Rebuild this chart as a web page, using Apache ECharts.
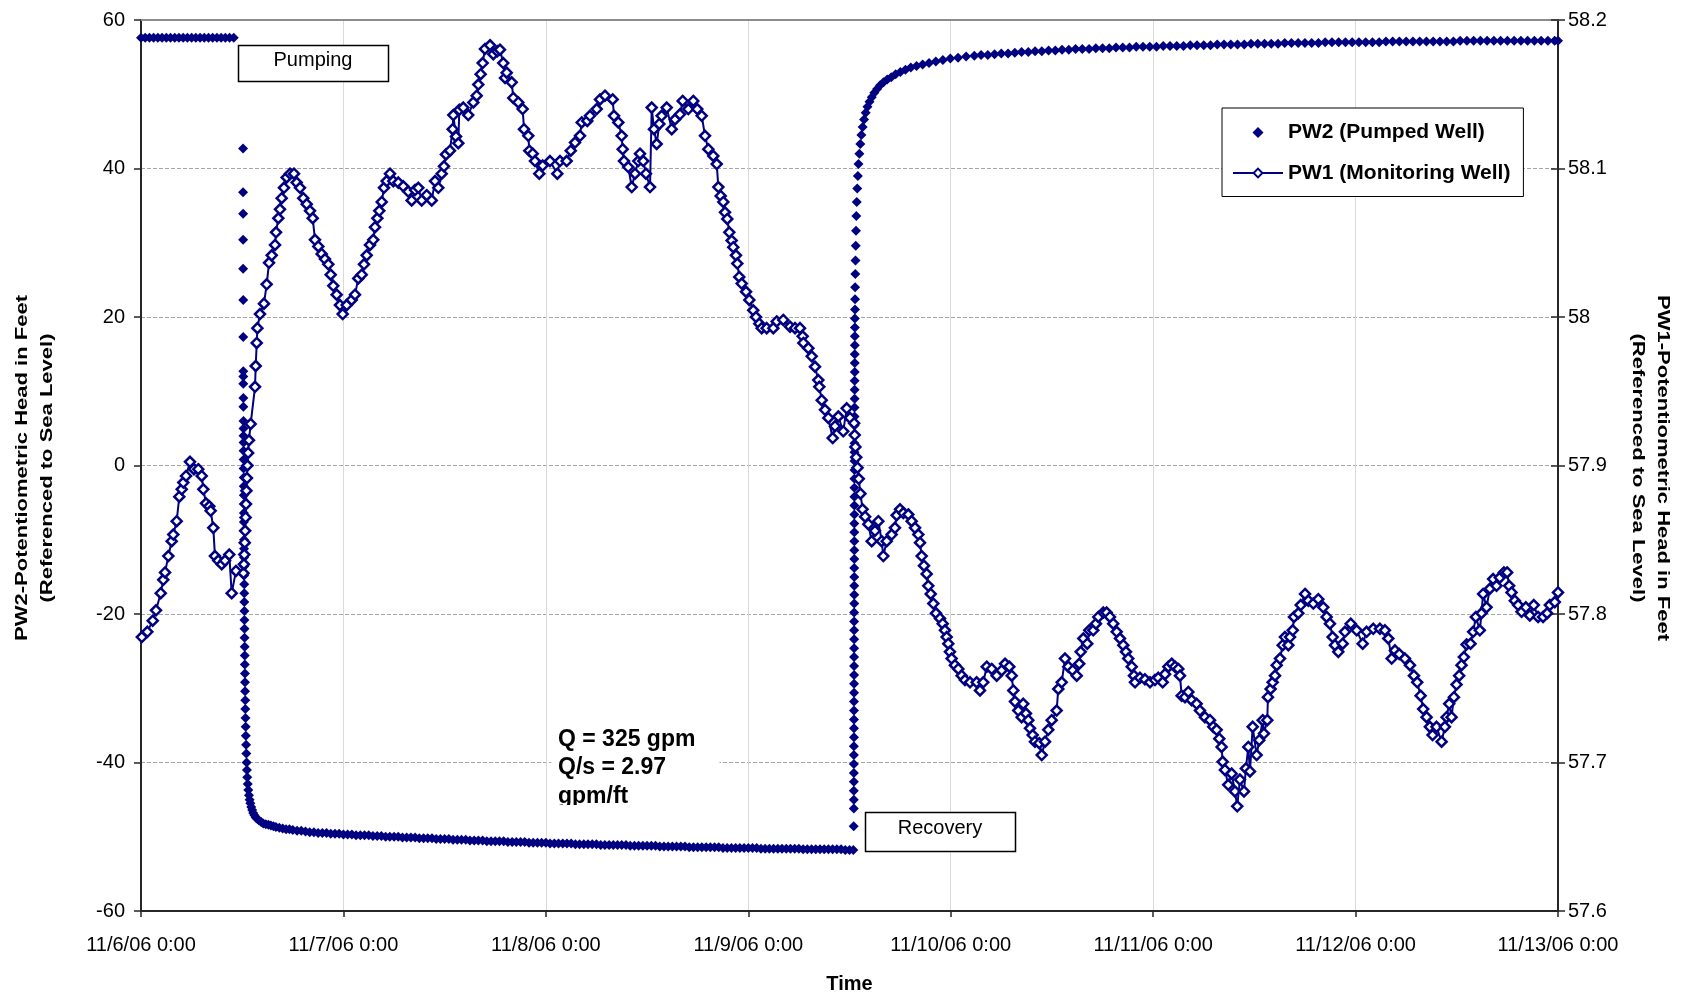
<!DOCTYPE html>
<html>
<head>
<meta charset="utf-8">
<script src="https://cdn.jsdelivr.net/npm/echarts@6/dist/echarts.min.js"></script>
<style>
  html, body { margin: 0; padding: 0; background: #fff; }
  #chart { width: 1686px; height: 999px; }
</style>
</head>
<body>
<div id="chart"></div>
<script>
// Time axis: hours since 11/6/06 0:00, one tick per day
const dayLabels = ['11/6/06 0:00', '11/7/06 0:00', '11/8/06 0:00', '11/9/06 0:00',
                   '11/10/06 0:00', '11/11/06 0:00', '11/12/06 0:00', '11/13/06 0:00'];

// PW2 (pumped well) head, ft above sea level: [hour, head]
const pw2Static = [
  [0,57.6],[0.5,57.6],[1,57.6],[1.5,57.6],[2,57.6],[2.5,57.6],[3,57.6],[3.5,57.6],[4,57.6],[4.5,57.6],
  [5,57.6],[5.5,57.6],[6,57.6],[6.5,57.6],[7,57.6],[7.5,57.6],[8,57.6],[8.5,57.6],[9,57.6],[9.5,57.6],
  [10,57.6],[10.5,57.6],[11,57.6]
];
const pw2Pumping = [
  [12.10,42.7],[12.10,36.8],[12.11,33.9],[12.11,30.4],[12.11,26.5],[12.12,22.3],[12.12,17.3],[12.13,12.7],
  [12.13,12.0],[12.13,11.0],[12.14,9.1],[12.14,7.9],[12.15,6.0],[12.15,5.0],[12.15,4.0],[12.16,3.1],
  [12.16,2.0],[12.17,0.8],[12.17,-0.4],[12.18,-1.6],[12.18,-2.8],[12.19,-4.0],[12.19,-5.2],[12.20,-6.4],
  [12.20,-7.6],[12.21,-8.8],[12.21,-10.0],[12.22,-11.2],[12.22,-12.4],[12.23,-13.6],[12.23,-14.8],[12.24,-16.0],
  [12.24,-17.2],[12.25,-18.4],[12.26,-19.6],[12.26,-20.8],[12.27,-22.0],[12.28,-23.2],[12.29,-24.4],[12.30,-25.6],
  [12.31,-26.8],[12.32,-28.0],[12.33,-29.2],[12.34,-30.4],[12.36,-31.6],[12.37,-32.8],[12.39,-34.0],[12.41,-35.2],
  [12.43,-36.4],[12.46,-37.6],[12.49,-38.8],[12.52,-40.0],[12.56,-41.0],[12.60,-42.0],[12.66,-42.9],[12.72,-43.7],
  [12.80,-44.4],[12.88,-45.0],[12.97,-45.5],[13.07,-46.0],[13.18,-46.4],[13.30,-46.8],[13.45,-47.1],[13.60,-47.4],
  [13.80,-47.6],[14.00,-47.8],[14.25,-48.0],[14.50,-48.2],[14.80,-48.3],[15.10,-48.4],[15.40,-48.5],[15.70,-48.6],
  [16.00,-48.7],[16.40,-48.8],[16.80,-48.9],[17.20,-49.0],[17.60,-49.0],[18.00,-49.1],[18.50,-49.2],[19.00,-49.2],
  [19.50,-49.3],[20.0,-49.4],[20.5,-49.4],[21.0,-49.5],[21.5,-49.5],[22.0,-49.5],[22.5,-49.6],[23.0,-49.6],
  [23.5,-49.6],[24.0,-49.7],[24.5,-49.7],[25.0,-49.7],[25.5,-49.8],[26.0,-49.8],[26.5,-49.8],[27.0,-49.8],
  [27.5,-49.9],[28.0,-49.9],[28.5,-49.9],[29.0,-50.0],[29.5,-50.0],[30.0,-50.0],[30.5,-50.0],[31.0,-50.1],
  [31.5,-50.1],[32.0,-50.1],[32.5,-50.1],[33.0,-50.2],[33.5,-50.2],[34.0,-50.2],[34.5,-50.2],[35.0,-50.3],
  [35.5,-50.3],[36.0,-50.3],[36.5,-50.3],[37.0,-50.4],[37.5,-50.4],[38.0,-50.4],[38.5,-50.4],[39.0,-50.5],
  [39.5,-50.5],[40.0,-50.5],[40.5,-50.5],[41.0,-50.6],[41.5,-50.6],[42.0,-50.6],[42.5,-50.6],[43.0,-50.6],
  [43.5,-50.7],[44.0,-50.7],[44.5,-50.7],[45.0,-50.7],[45.5,-50.7],[46.0,-50.8],[46.5,-50.8],[47.0,-50.8],
  [47.5,-50.8],[48.0,-50.8],[48.5,-50.9],[49.0,-50.9],[49.5,-50.9],[50.0,-50.9],[50.5,-50.9],[51.0,-50.9],
  [51.5,-51.0],[52.0,-51.0],[52.5,-51.0],[53.0,-51.0],[53.5,-51.0],[54.0,-51.0],[54.5,-51.1],[55.0,-51.1],
  [55.5,-51.1],[56.0,-51.1],[56.5,-51.1],[57.0,-51.1],[57.5,-51.1],[58.0,-51.2],[58.5,-51.2],[59.0,-51.2],
  [59.5,-51.2],[60.0,-51.2],[60.5,-51.2],[61.0,-51.2],[61.5,-51.3],[62.0,-51.3],[62.5,-51.3],[63.0,-51.3],
  [63.5,-51.3],[64.0,-51.3],[64.5,-51.3],[65.0,-51.4],[65.5,-51.4],[66.0,-51.4],[66.5,-51.4],[67.0,-51.4],
  [67.5,-51.4],[68.0,-51.4],[68.5,-51.4],[69.0,-51.5],[69.5,-51.5],[70.0,-51.5],[70.5,-51.5],[71.0,-51.5],
  [71.5,-51.5],[72.0,-51.5],[72.5,-51.5],[73.0,-51.5],[73.5,-51.6],[74.0,-51.6],[74.5,-51.6],[75.0,-51.6],
  [75.5,-51.6],[76.0,-51.6],[76.5,-51.6],[77.0,-51.6],[77.5,-51.6],[78.0,-51.6],[78.5,-51.7],[79.0,-51.7],
  [79.5,-51.7],[80.0,-51.7],[80.5,-51.7],[81.0,-51.7],[81.5,-51.7],[82.0,-51.7],[82.5,-51.7],[83.0,-51.7],
  [83.5,-51.8],[84.0,-51.8],[84.45,-51.8]
];
const pw2Recovery = [
  [84.50,-48.6],[84.51,-46.2],[84.51,-45.0],[84.51,-43.8],[84.52,-42.6],[84.52,-41.4],[84.52,-40.2],[84.52,-39.0],
  [84.52,-37.8],[84.53,-36.6],[84.53,-35.4],[84.53,-34.2],[84.53,-33.0],[84.53,-31.8],[84.54,-30.6],[84.54,-29.4],
  [84.54,-28.2],[84.54,-27.0],[84.54,-25.8],[84.55,-24.6],[84.55,-23.4],[84.55,-22.2],[84.55,-21.0],[84.55,-19.8],
  [84.56,-18.6],[84.56,-17.4],[84.56,-16.2],[84.56,-15.0],[84.56,-13.8],[84.57,-12.6],[84.57,-11.4],[84.57,-10.2],
  [84.57,-9.0],[84.57,-7.8],[84.58,-6.6],[84.58,-5.4],[84.58,-4.2],[84.58,-3.0],[84.58,-1.8],[84.59,-0.6],
  [84.59,0.6],[84.59,1.8],[84.59,3.0],[84.60,4.2],[84.60,5.4],[84.60,6.6],[84.60,7.8],[84.61,9.0],
  [84.61,10.2],[84.61,11.4],[84.62,12.6],[84.62,13.8],[84.62,15.0],[84.63,16.2],[84.63,17.4],[84.64,18.6],
  [84.64,19.8],[84.65,21.0],[84.66,22.4],[84.67,24.0],[84.69,25.8],[84.71,27.6],[84.74,29.6],[84.77,31.6],
  [84.81,33.6],[84.86,35.5],[84.92,37.3],[84.99,39.0],[85.07,40.6],[85.17,42.0],[85.28,43.3],[85.41,44.5],
  [85.56,45.6],[85.73,46.6],[85.92,47.5],[86.13,48.3],[86.37,49.0],[86.64,49.6],[86.94,50.2],[87.27,50.7],
  [87.63,51.2],[88.03,51.6],[88.47,52.0],[88.95,52.3],[89.47,52.7],[90.03,53.0],[90.63,53.3],[91.27,53.6],
  [91.95,53.8],[92.67,54.0],[93.43,54.2],[94.23,54.4],[95.07,54.6],[95.95,54.8],[96.87,54.9],[97.83,55.1],
  [98.8,55.2],[99.6,55.3],[100.4,55.3],[101.2,55.4],[102.0,55.5],[102.8,55.5],[103.6,55.6],[104.4,55.7],
  [105.2,55.7],[106.0,55.8],[106.8,55.8],[107.6,55.9],[108.4,55.9],[109.2,56.0],[110.0,56.0],[110.8,56.1],
  [111.6,56.1],[112.4,56.1],[113.2,56.2],[114.0,56.2],[114.8,56.2],[115.6,56.3],[116.4,56.3],[117.2,56.3],
  [118.0,56.4],[118.8,56.4],[119.6,56.4],[120.4,56.4],[121.2,56.5],[122.0,56.5],[122.8,56.5],[123.6,56.5],
  [124.4,56.6],[125.2,56.6],[126.0,56.6],[126.8,56.6],[127.6,56.7],[128.4,56.7],[129.2,56.7],[130.0,56.7],
  [130.8,56.7],[131.6,56.8],[132.4,56.8],[133.2,56.8],[134.0,56.8],[134.8,56.8],[135.6,56.9],[136.4,56.9],
  [137.2,56.9],[138.0,56.9],[138.8,56.9],[139.6,56.9],[140.4,57.0],[141.2,57.0],[142.0,57.0],[142.8,57.0],
  [143.6,57.0],[144.4,57.0],[145.2,57.0],[146.0,57.0],[146.8,57.0],[147.6,57.1],[148.4,57.1],[149.2,57.1],
  [150.0,57.1],[150.8,57.1],[151.6,57.1],[152.4,57.1],[153.2,57.1],[154.0,57.1],[154.8,57.1],[155.6,57.1],
  [156.4,57.2],[157.2,57.2],[158.0,57.2],[158.8,57.2],[159.6,57.2],[160.4,57.2],[161.2,57.2],[162.0,57.2],
  [162.8,57.2],[163.6,57.2],[164.4,57.2],[165.2,57.2],[166.0,57.2],[166.8,57.2],[167.6,57.2],[168.0,57.2]
];

// PW1 (monitoring well) head, ft above sea level: [hour, head]
const pw1 = [
  [0.10,57.7845],[0.75,57.788],[1.39,57.7955],[1.78,57.8025],[2.34,57.814],[2.64,57.823],[2.85,57.828],[3.24,57.839],
  [3.64,57.849],[3.83,57.8535],[4.23,57.8625],[4.54,57.879],[4.83,57.884],[5.02,57.8885],[5.34,57.893],[5.81,57.9025],
  [6.28,57.8975],[6.79,57.8975],[7.20,57.893],[7.39,57.884],[7.71,57.8745],[8.10,57.8725],[8.26,57.8695],[8.57,57.858],
  [8.77,57.839],[9.16,57.836],[9.57,57.8335],[9.96,57.836],[10.47,57.84],[10.75,57.814],[11.26,57.829],
  [12.15,57.8275],[12.20,57.8335],[12.25,57.84],[12.30,57.848],[12.35,57.856],[12.40,57.865],[12.45,57.874],
  [12.50,57.883],[12.56,57.8915],[12.62,57.9],[12.70,57.9085],[12.80,57.917],[13.00,57.928],[13.52,57.953],
  [13.60,57.967],[13.72,57.9825],[13.80,57.9925],[14.11,58.002],[14.58,58.009],[14.90,58.022],[15.18,58.0365],
  [15.50,58.0415],[15.89,58.0485],[16.01,58.057],[16.28,58.0665],[16.48,58.0725],[16.68,58.08],[16.95,58.087],
  [17.27,58.094],[17.67,58.0965],[18.14,58.0965],[18.46,58.0905],[18.85,58.087],[19.24,58.08],[19.65,58.076],
  [20.04,58.0715],[20.36,58.0665],[20.63,58.052],[21.02,58.0475],[21.42,58.0425],[21.81,58.039],[22.21,58.0355],
  [22.49,58.0285],[22.80,58.021],[23.20,58.015],[23.59,58.008],[23.91,58.002],[24.39,58.008],[24.98,58.0115],
  [25.37,58.015],[25.76,58.026],[26.17,58.0285],[26.44,58.0355],[26.76,58.0415],[27.15,58.0485],[27.54,58.052],
  [27.74,58.0605],[28.02,58.0665],[28.25,58.0715],[28.54,58.0775],[28.81,58.087],[29.13,58.0915],[29.52,58.0965],
  [29.91,58.0915],[30.51,58.0905],[31.10,58.088],[31.69,58.0845],[32.09,58.0785],[32.49,58.0855],[32.88,58.087],
  [33.28,58.0785],[33.87,58.082],[34.47,58.0785],[34.86,58.0915],[35.25,58.087],[35.65,58.0965],[35.92,58.1015],
  [36.16,58.1095],[36.63,58.112],[36.95,58.1265],[37.03,58.136],[37.35,58.1215],[37.62,58.117],[37.74,58.1395],
  [38.21,58.141],[38.80,58.136],[39.40,58.1445],[39.80,58.149],[39.99,58.1565],[40.27,58.1635],[40.51,58.171],
  [40.78,58.1805],[41.38,58.183],[41.77,58.177],[42.24,58.179],[42.56,58.18],[42.95,58.171],[43.16,58.161],
  [43.36,58.1645],[43.95,58.158],[44.14,58.1475],[44.73,58.1445],[45.25,58.14],[45.41,58.1265],[45.92,58.122],
  [46.04,58.112],[46.44,58.11],[46.71,58.105],[47.22,58.0965],[47.62,58.102],[48.49,58.105],[49.36,58.0965],
  [49.68,58.105],[50.47,58.105],[50.95,58.112],[51.46,58.1175],[52.05,58.122],[52.25,58.131],[52.91,58.132],
  [53.23,58.1355],[54.03,58.14],[54.42,58.1465],[55.01,58.149],[55.92,58.1465],[56.08,58.1355],[56.59,58.131],
  [56.99,58.122],[57.11,58.113],[57.26,58.105],[57.77,58.101],[58.18,58.0875],[58.57,58.0965],[58.96,58.105],
  [59.16,58.11],[59.55,58.105],[59.87,58.0965],[60.35,58.0875],[60.55,58.141],[60.82,58.1265],[61.14,58.1165],
  [61.45,58.13],[61.73,58.1355],[62.33,58.141],[62.92,58.1265],[63.31,58.133],[63.90,58.1365],[64.22,58.1455],
  [64.89,58.14],[65.48,58.1455],[65.95,58.14],[66.48,58.1355],[66.87,58.122],[67.26,58.113],[67.85,58.1085],
  [68.26,58.103],[68.45,58.0875],[68.73,58.0815],[69.04,58.0775],[69.24,58.0705],[69.51,58.066],[69.75,58.057],
  [70.03,58.0515],[70.22,58.047],[70.54,58.0415],[70.70,58.036],[70.93,58.027],[71.22,58.0225],[71.73,58.017],
  [72.12,58.0115],[72.59,58.0045],[72.91,58.0],[73.31,57.9955],[73.59,57.9925],[74.18,57.9925],[74.97,57.9925],
  [75.37,57.997],[76.15,57.998],[76.95,57.9935],[77.54,57.9925],[78.13,57.9925],[78.45,57.987],[78.53,57.9825],
  [79.12,57.979],[79.52,57.9735],[79.91,57.9665],[80.30,57.9575],[80.42,57.953],[80.71,57.944],[81.10,57.9375],
  [81.49,57.932],[82.01,57.9185],[82.28,57.9265],[82.67,57.933],[83.26,57.923],[83.67,57.9385],[84.06,57.932],
  [84.55,57.9285],[84.62,57.9205],[84.70,57.9125],[84.80,57.9055],[84.95,57.8985],[85.10,57.891],[85.30,57.881],
  [85.55,57.8705],[85.85,57.8655],[86.23,57.8605],[86.63,57.849],[87.02,57.856],[87.42,57.8625],[87.82,57.849],
  [88.01,57.839],[88.41,57.849],[89.00,57.8535],[89.39,57.858],[89.59,57.8665],[89.99,57.8705],[90.38,57.868],
  [90.97,57.867],[91.37,57.8625],[91.77,57.858],[92.16,57.8535],[92.36,57.848],[92.56,57.839],[92.83,57.8325],
  [93.15,57.827],[93.34,57.819],[93.63,57.8135],[93.94,57.807],[94.25,57.8005],[94.73,57.797],[95.05,57.7935],
  [95.32,57.789],[95.52,57.7845],[95.71,57.78],[95.91,57.7745],[96.11,57.77],[96.50,57.7655],[96.90,57.763],
  [97.30,57.7585],[97.69,57.7555],[98.29,57.754],[99.08,57.754],[99.47,57.7485],[99.86,57.754],[100.27,57.7645],
  [100.86,57.763],[101.45,57.7585],[102.04,57.762],[102.44,57.7665],[102.95,57.7645],[103.23,57.7585],[103.42,57.7485],
  [103.62,57.741],[104.01,57.735],[104.41,57.7305],[104.60,57.7395],[104.92,57.733],[105.20,57.7285],[105.40,57.723],
  [105.72,57.7185],[105.99,57.714],[106.50,57.713],[106.79,57.705],[107.18,57.714],[107.57,57.722],[107.97,57.7285],
  [108.56,57.735],[108.75,57.7495],[109.16,57.754],[109.55,57.77],[109.94,57.7645],[110.46,57.762],[110.94,57.7585],
  [111.24,57.7665],[111.41,57.7745],[111.72,57.7835],[112.19,57.78],[112.43,57.789],[112.90,57.789],[113.22,57.7935],
  [113.50,57.798],[114.09,57.801],[114.49,57.801],[114.88,57.798],[115.27,57.7935],[115.68,57.788],[116.07,57.7835],
  [116.46,57.779],[116.78,57.7745],[117.05,57.77],[117.46,57.7645],[117.73,57.7585],[117.85,57.754],[118.44,57.757],
  [119.03,57.756],[119.63,57.754],[120.22,57.7555],[120.61,57.757],[121.13,57.754],[121.41,57.7595],[121.80,57.7645],
  [122.20,57.7665],[122.59,57.7645],[122.98,57.763],[123.18,57.7585],[123.38,57.745],[123.78,57.744],[124.17,57.7475],
  [124.57,57.742],[125.16,57.7395],[125.55,57.735],[126.14,57.7305],[126.74,57.7285],[127.13,57.724],[127.53,57.722],
  [127.84,57.716],[128.12,57.7105],[128.24,57.7005],[128.51,57.695],[128.90,57.685],[129.31,57.6925],[129.70,57.6805],
  [129.97,57.6705],[130.29,57.6885],[130.77,57.6805],[131.00,57.696],[131.28,57.7105],[131.48,57.694],[131.80,57.724],
  [132.27,57.705],[132.58,57.715],[132.99,57.7285],[133.14,57.7195],[133.53,57.7285],[133.61,57.744],[133.93,57.7495],
  [134.17,57.754],[134.45,57.7585],[134.65,57.7655],[135.04,57.77],[135.36,57.779],[135.63,57.7845],[136.03,57.779],
  [136.23,57.7845],[136.55,57.789],[136.70,57.798],[137.21,57.8005],[137.50,57.806],[138.01,57.8135],[138.40,57.809],
  [138.99,57.807],[139.58,57.81],[140.17,57.8045],[140.57,57.798],[140.96,57.7935],[141.28,57.7845],[141.56,57.779],
  [141.95,57.7745],[142.47,57.78],[142.74,57.788],[143.42,57.7935],[144.13,57.789],[144.84,57.78],[145.31,57.788],
  [146.10,57.79],[146.89,57.79],[147.48,57.789],[147.88,57.7835],[148.28,57.77],[148.67,57.7755],[149.18,57.773],
  [149.85,57.77],[150.45,57.7655],[150.92,57.7585],[151.31,57.754],[151.71,57.745],[152.02,57.736],[152.42,57.7305],
  [152.81,57.724],[153.13,57.7185],[153.60,57.724],[154.20,57.714],[154.59,57.724],[154.79,57.7305],[155.10,57.7395],
  [155.38,57.7305],[155.66,57.744],[155.97,57.7525],[156.28,57.7585],[156.56,57.7655],[156.84,57.771],[157.16,57.7795],
  [157.63,57.78],[157.94,57.788],[158.26,57.798],[158.73,57.789],[158.93,57.8005],[159.12,57.8135],[159.53,57.8045],
  [159.92,57.817],[160.31,57.8235],[160.71,57.819],[161.10,57.8245],[161.58,57.828],[161.97,57.828],[162.21,57.819],
  [162.49,57.8145],[162.88,57.809],[163.27,57.806],[163.68,57.8015],[164.19,57.8045],[164.66,57.799],[165.13,57.806],
  [165.64,57.798],[166.23,57.798],[166.71,57.8005],[167.03,57.806],[167.62,57.808],[168.00,57.8145]
];

const NAVY = '#000080';
const FONT = '"Liberation Sans", Arial, Helvetica, sans-serif';
const AXIS_COLOR = '#262626';
const DIAMOND_PATH = 'path://M5,0L10,5L5,10L0,5Z';

const chart = echarts.init(document.getElementById('chart'), null, { renderer: 'canvas' });

chart.setOption({
  animation: false,
  backgroundColor: '#ffffff',
  textStyle: { fontFamily: FONT },
  grid: { left: 141, right: 128, top: 20, bottom: 84 },
  legend: {
    orient: 'vertical',
    left: 1222,
    top: 108,
    padding: [14, 13, 13, 10],
    itemGap: 19.5,
    itemWidth: 50,
    itemHeight: 11,
    symbolKeepAspect: true,
    backgroundColor: '#ffffff',
    borderColor: '#000000',
    borderWidth: 1,
    borderRadius: 0,
    textStyle: { fontFamily: FONT, fontSize: 21, fontWeight: 'bold', color: '#000', lineHeight: 21 },
    data: [
      { name: 'PW2 (Pumped Well)', icon: DIAMOND_PATH },
      { name: 'PW1 (Monitoring Well)' }
    ]
  },
  xAxis: [
    {
      type: 'value', min: 0, max: 168, interval: 24, position: 'bottom',
      axisLine: { show: true, onZero: false, lineStyle: { color: AXIS_COLOR, width: 2 } },
      axisTick: { show: true, length: 6, lineStyle: { color: AXIS_COLOR, width: 1.5 } },
      axisLabel: {
        fontFamily: FONT, fontSize: 20, color: '#000', margin: 24,
        formatter: v => dayLabels[Math.round(v / 24)]
      },
      splitLine: { show: true, lineStyle: { color: '#d9d9d9', width: 1 } },
      name: 'Time', nameLocation: 'middle', nameGap: 63,
      nameTextStyle: { fontFamily: FONT, fontSize: 20, fontWeight: 'bold', color: '#000' }
    },
    {
      // plot-area top edge
      type: 'value', min: 0, max: 168, position: 'top',
      axisLine: { show: true, onZero: false, lineStyle: { color: '#8c8c8c', width: 2 } },
      axisTick: { show: false }, axisLabel: { show: false }, splitLine: { show: false }
    }
  ],
  yAxis: [
    {
      type: 'value', min: -60, max: 60, interval: 20, position: 'left',
      axisLine: { show: true, onZero: false, lineStyle: { color: AXIS_COLOR, width: 2 } },
      axisTick: { show: true, length: 7, lineStyle: { color: AXIS_COLOR, width: 1.5 } },
      axisLabel: { fontFamily: FONT, fontSize: 20, color: '#000', margin: 16 },
      splitLine: { show: true, lineStyle: { color: '#a6a6a6', width: 1, type: [4, 2] } }
    },
    {
      type: 'value', min: 57.6, max: 58.2, interval: 0.1, position: 'right',
      axisLine: { show: true, onZero: false, lineStyle: { color: AXIS_COLOR, width: 2 } },
      axisTick: { show: true, length: 7, lineStyle: { color: AXIS_COLOR, width: 1.5 } },
      axisLabel: {
        fontFamily: FONT, fontSize: 20, color: '#000', margin: 10,
        formatter: v => String(+v.toFixed(1))
      },
      splitLine: { show: false }
    },
    {
      // inner half of the crossing ticks on the right axis
      type: 'value', min: 57.6, max: 58.2, interval: 0.1, position: 'right',
      axisLine: { show: false, onZero: false },
      axisTick: { show: true, inside: true, length: 7, lineStyle: { color: AXIS_COLOR, width: 1.5 } },
      axisLabel: { show: false }, splitLine: { show: false }
    }
  ],
  series: [
    {
      name: 'PW2 (Pumped Well)',
      type: 'scatter',
      xAxisIndex: 0, yAxisIndex: 0,
      data: pw2Static.concat(pw2Pumping, pw2Recovery),
      symbol: 'diamond',
      symbolSize: 10,
      itemStyle: { color: NAVY, opacity: 1 },
      z: 2
    },
    {
      name: 'PW1 (Monitoring Well)',
      type: 'line',
      xAxisIndex: 0, yAxisIndex: 1,
      data: pw1,
      symbol: 'diamond',
      symbolSize: 10,
      showSymbol: true,
      showAllSymbol: true,
      itemStyle: { color: '#ffffff', borderColor: NAVY, borderWidth: 2.5 },
      lineStyle: { color: NAVY, width: 2 },
      z: 3
    }
  ],
  graphic: [
    // Left axis title
    {
      type: 'text', x: 35, y: 468, rotation: Math.PI / 2, scaleY: 0.77, z: 50,
      style: {
        text: 'PW2-Potentiometric Head in Feet\n(Referenced to Sea Level)',
        font: 'bold 22px ' + FONT, fill: '#000', lineHeight: 32,
        textAlign: 'center', textVerticalAlign: 'middle', align: 'center', verticalAlign: 'middle'
      }
    },
    // Right axis title
    {
      type: 'text', x: 1650, y: 468, rotation: -Math.PI / 2, scaleY: 0.77, z: 50,
      style: {
        text: 'PW1-Potentiometric Head in Feet\n(Referenced to Sea Level)',
        font: 'bold 22px ' + FONT, fill: '#000', lineHeight: 32,
        textAlign: 'center', textVerticalAlign: 'middle', align: 'center', verticalAlign: 'middle'
      }
    },
    // "Pumping" call-out
    {
      type: 'rect', z: 100,
      shape: { x: 238.5, y: 45.5, width: 150, height: 36 },
      style: { fill: '#ffffff', stroke: '#000000', lineWidth: 1.5 }
    },
    {
      type: 'text', x: 313, y: 60, z: 101,
      style: {
        text: 'Pumping', font: '20px ' + FONT, fill: '#000',
        textAlign: 'center', textVerticalAlign: 'middle', align: 'center', verticalAlign: 'middle'
      }
    },
    // "Recovery" call-out
    {
      type: 'rect', z: 100,
      shape: { x: 865.5, y: 812.5, width: 150, height: 39 },
      style: { fill: '#ffffff', stroke: '#000000', lineWidth: 1.5 }
    },
    {
      type: 'text', x: 940, y: 828, z: 101,
      style: {
        text: 'Recovery', font: '20px ' + FONT, fill: '#000',
        textAlign: 'center', textVerticalAlign: 'middle', align: 'center', verticalAlign: 'middle'
      }
    },
    // Pumping-rate note
    {
      type: 'rect', z: 100,
      shape: { x: 551.5, y: 712, width: 168, height: 93 },
      style: { fill: '#ffffff' }
    },
    {
      type: 'text', x: 558, y: 725, z: 101,
      style: {
        text: 'Q = 325 gpm\nQ/s = 2.97\ngpm/ft', font: 'bold 23px ' + FONT, fill: '#000',
        lineHeight: 28.7,
        textAlign: 'left', textVerticalAlign: 'top', align: 'left', verticalAlign: 'top'
      }
    },
    {
      type: 'rect', z: 102,
      shape: { x: 551.5, y: 805, width: 168, height: 9 },
      style: { fill: '#ffffff' }
    }
  ]
});
</script>
</body>
</html>
